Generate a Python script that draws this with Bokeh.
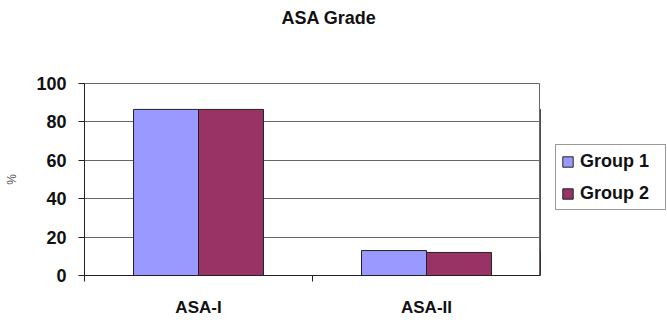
from bokeh.plotting import figure
from bokeh.layouts import row, column
from bokeh.models import ColumnDataSource, FixedTicker, Legend, LegendItem, Range1d
from bokeh.transform import dodge
from bokeh.embed import file_html
from bokeh.resources import INLINE
import numpy as np

categories = ["ASA-I", "ASA-II"]
group1 = [86.5, 13]
group2 = [86.5, 12]
series = ["Group 1", "Group 2"]
colors = ["#9999FF", "#993366"]
y_ticks = [0, 20, 40, 60, 80, 100]
title_text = "ASA Grade"

pos = list(np.arange(len(categories)) + 0.5)
src = ColumnDataSource(dict(x=pos, g1=group1, g2=group2, cat=categories))

FONT = "Liberation Sans"

# header holding the chart title
ph = figure(width=667, height=44, output_backend="svg", toolbar_location=None,
            x_axis_type=None, y_axis_type=None, min_border=0,
            x_range=Range1d(0, 1), y_range=Range1d(0, 1))
ph.outline_line_color = None
ph.grid.grid_line_color = None
ph.title.text = title_text
ph.title.align = "left"
ph.title.offset = 281
ph.title.text_font = FONT
ph.title.text_font_size = "18px"
ph.title.text_font_style = "bold"
ph.title.text_color = "#111111"

p = figure(width=540, height=279, output_backend="svg", toolbar_location=None,
           x_range=Range1d(0, len(categories)), y_range=Range1d(0, 100),
           min_border_left=84, min_border_right=0, min_border_top=39, min_border_bottom=48)
p.title = None

bw = 0.285
r1 = p.vbar(x=dodge("x", -bw / 2, range=p.x_range), top="g1", width=bw, source=src,
            fill_color=colors[0], line_color="#222222", line_width=1)
r2 = p.vbar(x=dodge("x", bw / 2, range=p.x_range), top="g2", width=bw, source=src,
            fill_color=colors[1], line_color="#222222", line_width=1)

# x axis
xa = p.xaxis[0]
xa.ticker = FixedTicker(ticks=pos, minor_ticks=[0, 1, 2])
xa.major_label_overrides = {float(v): c for v, c in zip(pos, categories)}
xa.major_tick_out = 0
xa.major_tick_in = 0
xa.minor_tick_out = 6
xa.minor_tick_in = 0
xa.major_label_standoff = 16
xa.major_label_text_font = FONT
xa.major_label_text_font_size = "17px"
xa.major_label_text_font_style = "bold"
xa.major_label_text_color = "#111111"
xa.axis_line_color = "#222222"
xa.minor_tick_line_color = "#222222"

# y axis
ya = p.yaxis[0]
ya.ticker = FixedTicker(ticks=y_ticks, minor_ticks=[])
ya.major_tick_out = 6
ya.major_tick_in = 0
ya.major_label_standoff = 12
ya.major_label_text_font = FONT
ya.major_label_text_font_size = "18px"
ya.major_label_text_font_style = "bold"
ya.major_label_text_color = "#111111"
ya.axis_line_color = "#222222"
ya.major_tick_line_color = "#222222"
ya.axis_label = "%"
ya.axis_label_text_font = FONT
ya.axis_label_text_font_size = "12px"
ya.axis_label_text_font_style = "normal"
ya.axis_label_text_color = "#555555"
ya.axis_label_standoff = 14

p.xgrid.grid_line_color = None
p.ygrid.grid_line_color = "#666666"
p.ygrid.grid_line_width = 1
p.outline_line_color = "#666666"
p.outline_line_width = 1

# legend panel (its own view range keeps its proxy glyphs out of sight)
pl = figure(width=127, height=279, output_backend="svg", toolbar_location=None,
            x_axis_type=None, y_axis_type=None, min_border=0,
            x_range=Range1d(100, 101), y_range=Range1d(0, 100))
pl.outline_line_color = None
pl.grid.grid_line_color = None
items = []
for name, col, key in zip(series, colors, ["g1", "g2"]):
    rr = pl.vbar(x="x", top=key, width=bw, source=src, fill_color=col, line_color="#222222")
    items.append(LegendItem(label=name, renderers=[rr]))

legend = Legend(items=items, location=(15, 65))
legend.label_text_font = FONT
legend.label_text_font_size = "18px"
legend.label_text_font_style = "bold"
legend.label_text_color = "#111111"
legend.label_height = 22
legend.label_width = 80
legend.glyph_height = 13
legend.glyph_width = 13
legend.label_standoff = 6
legend.spacing = 10
legend.padding = 5
legend.margin = 0
legend.border_line_color = "#333333"
legend.border_line_width = 1
legend.background_fill_alpha = 1
pl.add_layout(legend, "center")

layout = column(ph, row(p, pl, spacing=0), spacing=0)
open("out.html", "w").write(file_html(layout, INLINE))
